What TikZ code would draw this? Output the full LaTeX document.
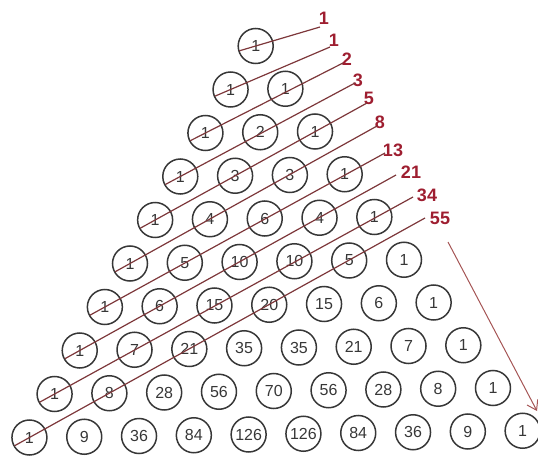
\documentclass[tikz,border=0pt]{standalone}
\usepackage{fontspec}
\setmainfont{Liberation Sans}
\definecolor{CellGray}{RGB}{55, 55, 55}
\definecolor{FibRed}{RGB}{158, 30, 48}
\definecolor{DiagBrown}{RGB}{125, 55, 58}
\definecolor{ArrowRed}{RGB}{165, 85, 85}
\usetikzlibrary{arrows.meta, calc}

\begin{document}
\begin{tikzpicture}[x=1pt, y=-1pt,
    every node/.style={align=center},
    cell/.style={circle, draw=CellGray, line width=1.5pt, minimum size=35pt,
                 inner sep=0pt, text=CellGray, font=\fontsize{16}{16}\selectfont},
    fib/.style={text=FibRed, inner sep=0pt, font=\fontsize{18}{18}\selectfont\bfseries},
    diag/.style={DiagBrown, line width=1.2pt}
]
\useasboundingbox (0,0) rectangle (538,457);
% Pascal rows
\foreach \r/\vals in {0/{1}, 1/{1,1}, 2/{1,2,1}, 3/{1,3,3,1}, 4/{1,4,6,4,1},
    5/{1,5,10,10,5,1}, 6/{1,6,15,20,15,6,1}, 7/{1,7,21,35,35,21,7,1},
    8/{1,8,28,56,70,56,28,8,1}, 9/{1,9,36,84,126,126,84,36,9,1}} {
  \foreach \v [count=\k from 0] in \vals {
    \node[cell] (c-\r-\k) at ({255.7-25.14*\r+54.8*\k},{46+43.5*\r-0.75*\k}) {\v};
  }
}
% shallow diagonals and their sums
\foreach \r/\ex/\ey/\lx/\ly/\n in {0/320/27/324/18/1, 1/330/47/334/40/1,
    2/343/63/347/59/2, 3/355/83/358/80/3, 4/367/103/369/98/5,
    5/377/126/380/122/8, 6/385/153/393/150/13, 7/396/175/411/172/21,
    8/413/197/427/195/34, 9/425/218/440/218/55} {
  \coordinate (e-\r) at (\ex,\ey);
  \node[fib] (f-\r) at (\lx,\ly) {\n};
  \draw[diag] ($(c-\r-0)!-17pt!(e-\r)$) -- (e-\r);
}
\coordinate (a0) at (448,242);
\coordinate (a1) at (537,411);
\draw[-{Straight Barb[length=9pt, width=12pt]}, ArrowRed, line width=1pt] (a0) -- (a1);
\end{tikzpicture}
\end{document}
